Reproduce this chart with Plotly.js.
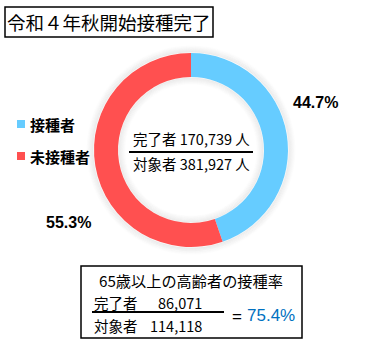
<!DOCTYPE html>
<html>
<head>
<meta charset="utf-8">
<script src="https://cdn.plot.ly/plotly-3.0.1.min.js"></script>
<style>html,body{margin:0;padding:0;background:#fff;}#chart{width:378px;height:360px;}</style>
</head>
<body>
<div id="chart"></div>
<script>
// ---- data ----
const chartTitle = '令和４年秋開始接種完了';
const categories = ['接種者', '未接種者'];
const values = [170739, 211188];
const colors = ['#66CCFF', '#FF5050'];
const totalDone = 170739;
const totalTarget = 381927;
const elderTitle = '65歳以上の高齢者の接種率';
const elderDone = 86071;
const elderTarget = 114118;

// ---- helpers ----
const W = 378, H = 360;
const px = x => x / W;
const py = y => 1 - y / H;
const fmt = n => n.toLocaleString('en-US');
const jp = '"Noto Sans CJK JP", "Noto Sans", sans-serif';
const total = values.reduce((a, b) => a + b, 0);
const pct = values.map(v => (v / total * 100).toFixed(1) + '%');

const cx = 191, cy = 150, rOut = 97, rIn = 73;

const shapes = [];
// soft shadow around the ring
for (let k = 1; k <= 7; k++) {
  const a = 0.055 * (1 - (k - 1) / 7);
  [rOut + k, rIn - k].forEach(r => {
    shapes.push({type: 'circle', xref: 'paper', yref: 'paper', layer: 'below',
      x0: px(cx - r), x1: px(cx + r), y0: py(cy + r), y1: py(cy - r),
      line: {color: 'rgba(0,0,0,' + a.toFixed(3) + ')', width: 1.5}});
  });
}
// title box
shapes.push({type: 'rect', xref: 'paper', yref: 'paper', x0: px(5), x1: px(213), y0: py(37), y1: py(7),
  line: {color: '#000', width: 1.5}});
// bottom box
shapes.push({type: 'rect', xref: 'paper', yref: 'paper', x0: px(81), x1: px(302), y0: py(338), y1: py(266),
  line: {color: '#000', width: 1.5}});
// center fraction line
shapes.push({type: 'line', xref: 'paper', yref: 'paper', x0: px(129), x1: px(253), y0: py(152), y1: py(152),
  line: {color: '#000', width: 2}});
// bottom fraction line
shapes.push({type: 'line', xref: 'paper', yref: 'paper', x0: px(92), x1: px(224), y0: py(312), y1: py(312),
  line: {color: '#000', width: 2}});
// legend squares
const legY = [124, 156];
categories.forEach((c, i) => {
  shapes.push({type: 'rect', xref: 'paper', yref: 'paper', x0: px(17), x1: px(25), y0: py(legY[i] + 4), y1: py(legY[i] - 4),
    fillcolor: colors[i], line: {width: 0}});
});

const ann = (x, y, text, size, opts = {}) => Object.assign({
  xref: 'paper', yref: 'paper', x: px(x), y: py(y), text: text, showarrow: false,
  font: {family: jp, size: size, color: '#000'}, xanchor: 'left', yanchor: 'middle'
}, opts);

const annotations = [
  ann(109, 22, chartTitle, 18.5, {xanchor: 'center'}),
  ...categories.map((c, i) => ann(28, legY[i], '<b>' + c + '</b>', 15)),
  ann(315, 102, '<b>' + pct[0] + '</b>', 16, {xanchor: 'center', font: {family: 'Liberation Sans, Arial, sans-serif', size: 16, color: '#000'}}),
  ann(68, 222, '<b>' + pct[1] + '</b>', 16, {xanchor: 'center', font: {family: 'Liberation Sans, Arial, sans-serif', size: 16, color: '#000'}}),
  ann(191, 138, '完了者 ' + fmt(totalDone) + ' 人', 14.5, {xanchor: 'center'}),
  ann(191, 164, '対象者 ' + fmt(totalTarget) + ' 人', 14.5, {xanchor: 'center'}),
  ann(191, 280, elderTitle, 15.2, {xanchor: 'center'}),
  ann(92, 302, '完了者', 14.5),
  ann(204, 302, fmt(elderDone), 14.5, {xanchor: 'right'}),
  ann(92, 325, '対象者', 14.5),
  ann(204, 325, fmt(elderTarget), 14.5, {xanchor: 'right'}),
  ann(237, 316, '=', 17, {xanchor: 'center', font: {family: 'Liberation Sans, Arial, sans-serif', size: 17, color: '#000'}}),
  ann(245, 315, (elderDone / elderTarget * 100).toFixed(1) + '%', 17, {xanchor: 'left',
    font: {family: 'Liberation Sans, Arial, sans-serif', size: 17, color: '#0070C0'}})
];

const trace = {
  type: 'pie', labels: categories, values: values, hole: rIn / rOut,
  sort: false, direction: 'clockwise', rotation: 0,
  marker: {colors: colors, line: {width: 0}},
  textinfo: 'none', hoverinfo: 'none',
  domain: {x: [px(cx - rOut), px(cx + rOut)], y: [py(cy + rOut), py(cy - rOut)]}
};

const layout = {
  width: W, height: H, margin: {l: 0, r: 0, t: 0, b: 0},
  paper_bgcolor: '#fff', plot_bgcolor: '#fff', showlegend: false,
  shapes: shapes, annotations: annotations
};

Plotly.newPlot('chart', [trace], layout, {displayModeBar: false, staticPlot: true});
</script>
</body>
</html>
